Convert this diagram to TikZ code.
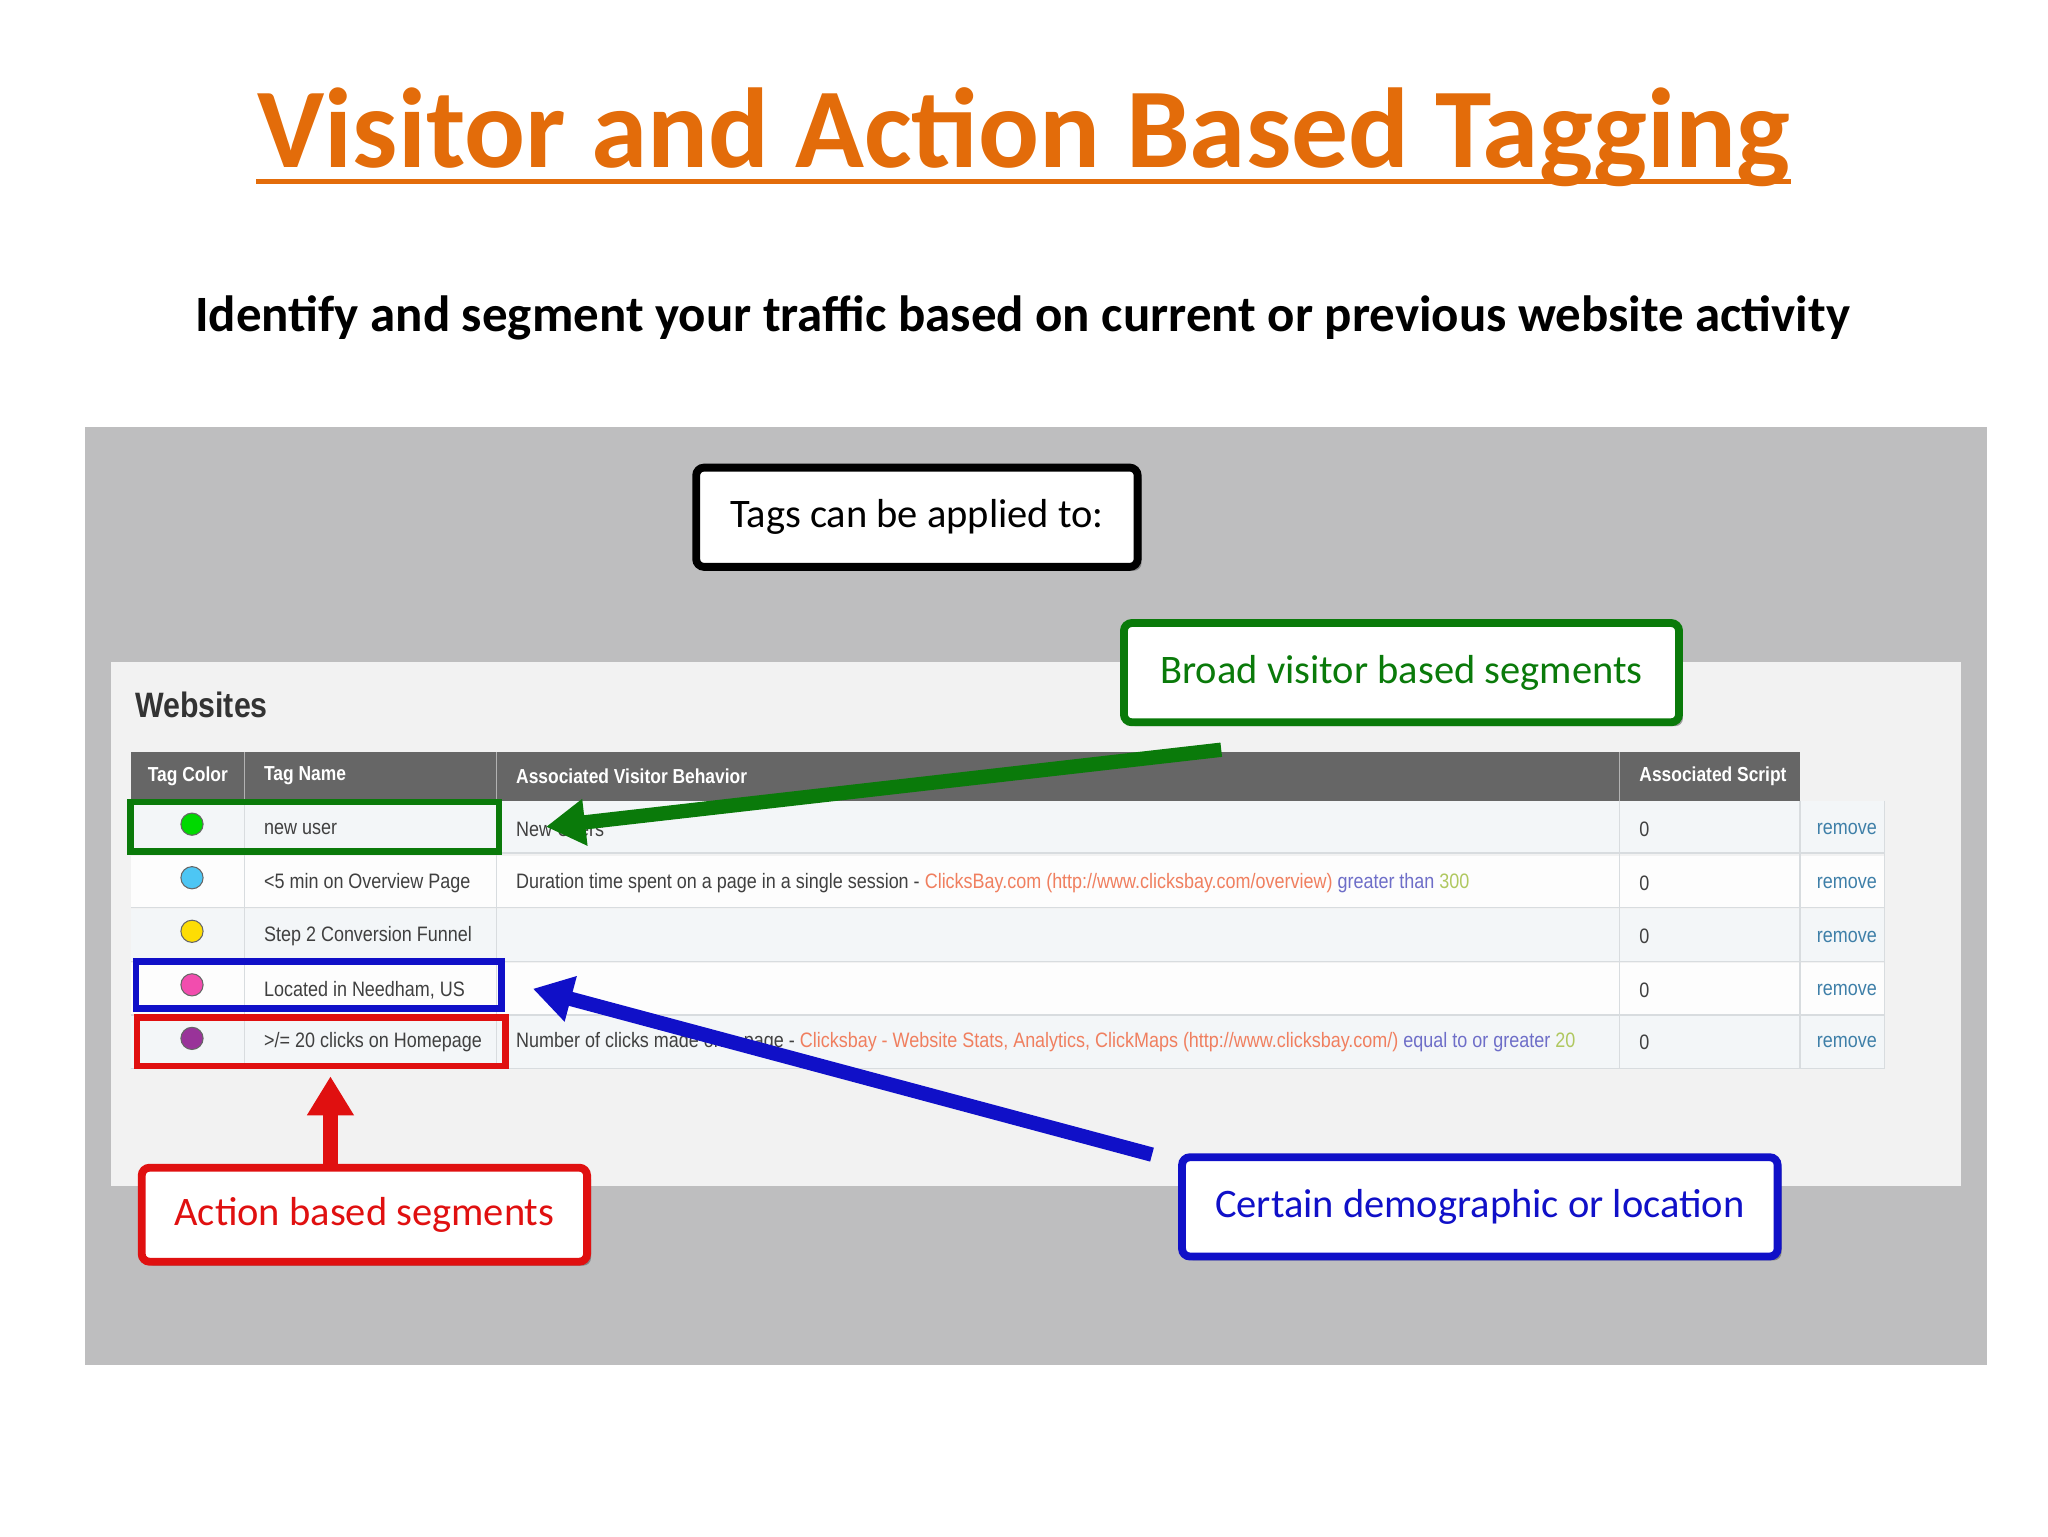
\documentclass[tikz,border=0pt]{standalone}
\usepackage{fontspec}
\setmainfont{Carlito}
\newfontfamily\tabfont[FakeStretch=0.86]{Liberation Sans}
\usetikzlibrary{arrows.meta,shadows}
\definecolor{ttlorange}{HTML}{E36C0A}
\definecolor{panelgray}{HTML}{BEBEBF}
\definecolor{lightpanel}{HTML}{F2F2F2}
\definecolor{hdrgray}{HTML}{666666}
\definecolor{rowa}{HTML}{F3F6F8}
\definecolor{rowb}{HTML}{FDFDFD}
\definecolor{gline}{HTML}{D8DCDF}
\definecolor{gboxc}{HTML}{0A7A0A}
\definecolor{bboxc}{HTML}{1010C8}
\definecolor{rboxc}{HTML}{E01010}
\definecolor{linkc}{HTML}{F07F5F}
\definecolor{purp}{HTML}{6E6EC8}
\definecolor{ylgr}{HTML}{B0C860}
\definecolor{remc}{HTML}{3E7FA8}
\tikzset{
  callout/.style={draw=#1, line width=6pt, rounded corners=6pt, fill=white,
    drop shadow={shadow xshift=3pt, shadow yshift=-3pt, fill=black!70},
    font=\fontsize{31}{34}\selectfont, inner sep=0pt, minimum height=76pt},
  hl/.style={draw=#1, line width=5pt},
  bigarrow/.style={draw=#1, line width=11pt, -{Triangle[length=30pt,width=34pt]}},
  cell/.style={anchor=west, font=\tabfont\fontsize{16}{18}\selectfont, text=black!75, inner sep=0pt},
  hcell/.style={anchor=west, font=\tabfont\bfseries\fontsize{15.5}{18}\selectfont, text=white, inner sep=0pt},
  dot/.style={circle, draw=black!60, line width=0.8pt, minimum size=17pt, inner sep=0pt, fill=#1},
  remv/.style={cell, anchor=center, text=remc}
}
\begin{document}
\begin{tikzpicture}[x=1pt,y=-1pt]
\useasboundingbox (0,0) rectangle (1568,1176);
\fill[white] (0,0) rectangle (1568,1176);
% title
\node[font=\bfseries\fontsize{87}{96}\selectfont, text=ttlorange, anchor=base] (title) at (784,128) {Visitor and Action Based Tagging};
\draw[ttlorange, line width=4pt] (196,139) -- (1371,139);
\node[font=\bfseries\fontsize{39}{44}\selectfont, anchor=base] (sub) at (783,254) {Identify and segment your traffic based on current or previous website activity};
% panels
\fill[panelgray] (65,327) rectangle (1521,1045);
\fill[lightpanel] (85,507) rectangle (1501,908);
\node[font=\tabfont\bfseries\fontsize{27}{30}\selectfont, text=black!80, anchor=base west] (web) at (100,549) {Websites};
% header
\fill[hdrgray] (100,576) rectangle (1378,613);
\foreach \x in {187,380,1240} \draw[white!70!black, line width=1pt] (\x,576) -- (\x,613);
\node[hcell] (h1) at (113,594) {Tag Color};
\node[hcell] (h2) at (202,594) {Tag Name};
\node[hcell] (h3) at (395,594) {Associated Visitor Behavior};
\node[hcell] (h4) at (1255,594) {Associated Script};
% rows
\foreach \t/\c [count=\i] in {613/rowa,655/rowb,696/rowa,737/rowb,778/rowa} {
  \fill[\c] (100,\t) rectangle (1443,\t+40);
  \draw[gline, line width=1pt] (100,\t+40) -- (1443,\t+40);
}
\foreach \x in {187,380,1240,1378} \draw[gline, line width=1pt] (\x,613) -- (\x,818);
\draw[gline, line width=1pt] (1443,613) -- (1443,818);
\node[dot=green!85!black] (d1) at (147,631) {};
\node[dot=cyan!70] (d2) at (147,672) {};
\node[dot=yellow!80!orange] (d3) at (147,713) {};
\node[dot=magenta!70] (d4) at (147,754) {};
\node[dot=violet!80] (d5) at (147,795) {};
\node[cell] (n1) at (202,635) {new user};
\node[cell] (n2) at (202,676) {<5 min on Overview Page};
\node[cell] (n3) at (202,717) {Step 2 Conversion Funnel};
\node[cell] (n4) at (202,758) {Located in Needham, US};
\node[cell] (n5) at (202,798) {>/= 20 clicks on Homepage};
\node[cell] (b1) at (395,635) {New Users};
\node[cell] (b2) at (395,676) {Duration time spent on a page in a single session - \textcolor{linkc}{ClicksBay.com (http://www.clicksbay.com/overview)} \textcolor{purp}{greater than} \textcolor{ylgr}{300}};
\node[cell] (b5) at (395,798) {Number of clicks made on a page - \textcolor{linkc}{Clicksbay - Website Stats, Analytics, ClickMaps (http://www.clicksbay.com/)} \textcolor{purp}{equal to or greater} \textcolor{ylgr}{20}};
\foreach \y [count=\i] in {635,676,717,758,798} {
  \node[cell] (z\i) at (1255,\y) {0};
  \node[remv] (r\i) at (1414,\y) {remove};
}
% highlights
\draw[hl=gboxc] (100,614) rectangle (382,652);
\draw[hl=bboxc] (104,736) rectangle (384,772);
\draw[hl=rboxc] (105,779) rectangle (387,816);
% callouts
\node[callout=black, minimum width=338pt] (tags) at (702,396) {Tags can be applied to:};
\node[callout=gboxc, text=gboxc, minimum width=425pt] (broad) at (1073,515) {Broad visitor based segments};
\node[callout=rboxc, text=rboxc, minimum width=341pt, minimum height=72pt] (action) at (279,930) {Action based segments};
\node[callout=bboxc, text=bboxc, minimum width=456pt] (cert) at (1133,924) {Certain demographic or location};
% arrows
\coordinate (gs) at (935,574);
\coordinate (ge) at (418,633);
\coordinate (bs) at (882,884);
\coordinate (be) at (408,757);
\coordinate (re) at (253,824);
\draw[bigarrow=gboxc] (gs) -- (ge);
\draw[bigarrow=bboxc] (bs) -- (be);
\draw[bigarrow=rboxc] (action.north -| re) -- (re);
\end{tikzpicture}
\end{document}
